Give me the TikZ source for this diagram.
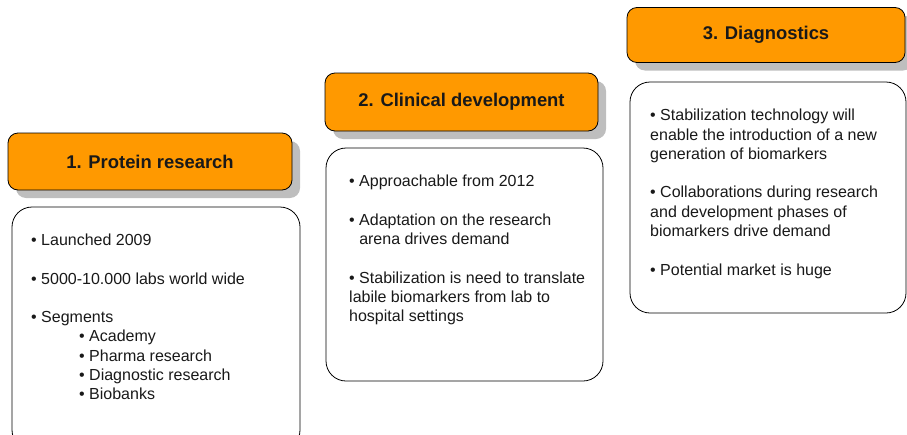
\documentclass[tikz,border=0pt]{standalone}
\usepackage{fontspec}
\setmainfont{Liberation Sans}
\usepackage{xcolor}
\usetikzlibrary{shadows}
\definecolor{phaseorange}{RGB}{255,153,0}
\definecolor{shadowgray}{RGB}{190,190,190}
\definecolor{inkgray}{RGB}{25,25,25}

\begin{document}
\begin{tikzpicture}[x=1pt, y=-1pt,
    phase/.style={draw, rectangle, rounded corners=10pt, fill=phaseorange, line width=0.8pt,
        drop shadow={shadow xshift=8pt, shadow yshift=-8pt, fill=shadowgray, opacity=1},
        font=\fontsize{18.4}{22}\selectfont\bfseries, text=inkgray},
    detail/.style={draw, rectangle, rounded corners=20pt, fill=white, line width=0.8pt},
    bullets/.style={anchor=north west, inner sep=0pt, align=left,
        font=\fontsize{16}{19.3}\selectfont, text=inkgray}]
        \useasboundingbox (0,0) rectangle (907,434);

        % Phase headers
        \node[phase, minimum width=284pt, minimum height=57pt] (head1) at (150,161.5) {1. Protein research};
        \node[phase, minimum width=273pt, minimum height=58pt] (head2) at (461.5,102) {2. Clinical development};
        \node[phase, minimum width=278pt, minimum height=55pt] (head3) at (766,35) {3. Diagnostics};

        % Detail boxes
        \node[detail, minimum width=288pt, minimum height=243pt] (body1) at (156,328.5) {};
        \node[detail, minimum width=277pt, minimum height=233pt] (body2) at (464.5,264.5) {};
        \node[detail, minimum width=276pt, minimum height=231pt] (body3) at (768,197.5) {};

        % Bullet lists
        \node[bullets] (list1) at (31,233.6) {%
            • Launched 2009\\[19.3pt]
            • 5000-10.000 labs world wide\\[19.3pt]
            • Segments\\
            \hspace*{48pt}• Academy\\
            \hspace*{48pt}• Pharma research\\
            \hspace*{48pt}• Diagnostic research\\
            \hspace*{48pt}• Biobanks};
        \node[bullets] (list2) at (349,175) {%
            • Approachable from 2012\\[19.3pt]
            • Adaptation on the research\\
            \hphantom{•\ }arena drives demand\\[19.3pt]
            • Stabilization is need to translate\\
            labile biomarkers from lab to\\
            hospital settings};
        \node[bullets] (list3) at (650,109) {%
            • Stabilization technology will\\
            enable the introduction of a new\\
            generation of biomarkers\\[19.3pt]
            • Collaborations during research\\
            and development phases of\\
            biomarkers drive demand\\[19.3pt]
            • Potential market is huge};
    \end{tikzpicture}
\end{document}
